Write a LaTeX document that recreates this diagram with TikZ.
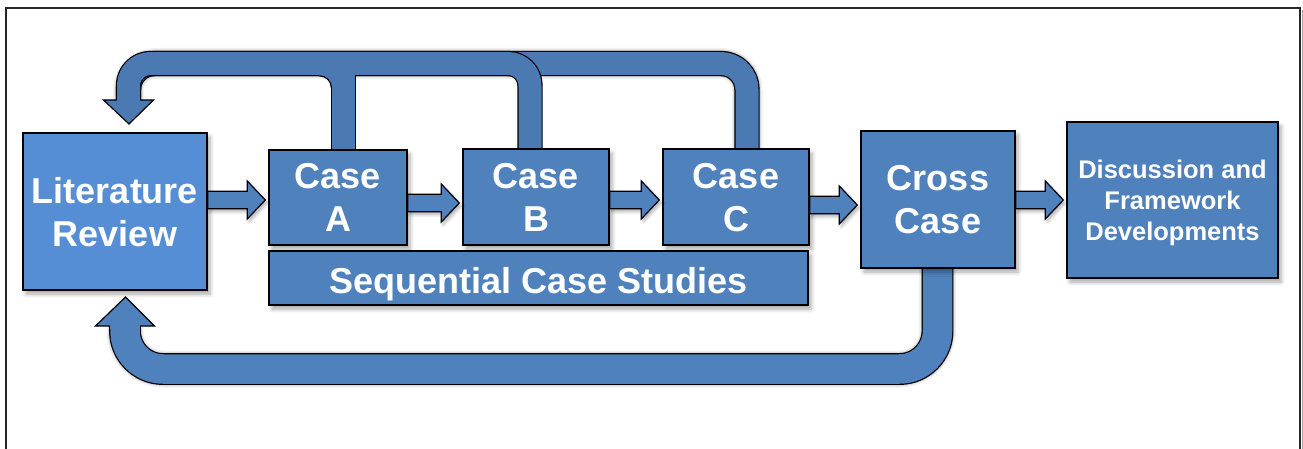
\documentclass[tikz,border=0pt]{standalone}
\usepackage{fontspec}
\setmainfont{Liberation Sans}
\usetikzlibrary{calc,shadows.blur}
\definecolor{boxblue}{HTML}{4F81BD}
\definecolor{litblue}{HTML}{558ED5}
\definecolor{loopblue}{HTML}{4B79B2}
\pgfdeclarelayer{bands}
\pgfsetlayers{bands,main}

% flat arrow between two boxes at a given height
\newcommand\flowarrow[3]{%
  \draw[flowstyle] let \p1=(#1.east |- 0,#3), \p2=(#2.west |- 0,#3) in
    (\x1,\y1+8.75pt) -- (\x2-21pt,\y1+8.75pt) -- (\x2-21pt,\y1+19pt)
    -- (\x2-3pt,\y1) -- (\x2-21pt,\y1-19pt) -- (\x2-21pt,\y1-8.75pt)
    -- (\x1,\y1-8.75pt) -- cycle;}

\begin{document}
\begin{tikzpicture}[x=1pt,y=-1pt,
  softshadow/.style={blur shadow={shadow xshift=3pt,shadow yshift=-4pt,
      shadow blur radius=4pt,shadow opacity=35}},
  box/.style={draw=black,line width=1.4pt,fill=boxblue,text=white,
      font=\bfseries\fontsize{36}{43}\selectfont,align=center,
      inner sep=0pt,text depth=0pt,softshadow},
  lower/.style={execute at begin node={\rule{0pt}{#1}}},
  flowstyle/.style={draw=black,line width=1.2pt,fill=boxblue,line join=miter,
      blur shadow={shadow xshift=2pt,shadow yshift=-3pt,
      shadow blur radius=3pt,shadow opacity=30}},
  bandedge/.style={draw=black,line cap=butt,line join=round},
  bandfill/.style={draw=loopblue,line cap=butt,line join=round},
  bandshade/.style={draw=black,opacity=0.10,line cap=butt,line join=round},
  headstyle/.style={draw=black,line width=1.2pt,fill=loopblue,line join=miter},
]
\useasboundingbox (0,0) rectangle (1303,449);

% outer frame
\draw[black!35,line width=1.5pt] (1302.5,10) -- (1302.5,460);
\draw[black!85,line width=1.3pt] (6,8) rectangle (1300,470);

% boxes
\node[box,lower=30pt,fill=litblue,minimum width=184pt,minimum height=157pt] (LR) at (115,211.5) {Literature\\Review};
\node[box,lower=32pt,minimum width=138pt,minimum height=95pt] (A) at (338,197.5) {Case\\A};
\node[box,lower=32pt,minimum width=146pt,minimum height=96pt] (B) at (536,197) {Case\\B};
\node[box,lower=32pt,minimum width=146pt,minimum height=96pt] (C) at (736,197) {Case\\C};
\node[box,lower=30pt,minimum width=539pt,minimum height=54pt] (S) at (538.5,278) {Sequential Case Studies};
\node[box,minimum width=154pt,minimum height=137pt] (X) at (938,199.5) {Cross\\Case};
\node[box,minimum width=211pt,minimum height=156pt,
      font=\bfseries\fontsize{25.5}{31}\selectfont] (D) at (1172.5,200)
      {Discussion and\\Framework\\Developments};

% flow between the stages
\flowarrow{LR}{A}{200}
\flowarrow{A}{B}{203}
\flowarrow{B}{C}{200}
\flowarrow{C}{X}{205}
\flowarrow{X}{D}{200}

% feedback loops
\coordinate (cTop) at (747,63.5);
\coordinate (bTop) at (530,63.5);
\coordinate (aTop) at (343.5,63.5);
\coordinate (lTop) at (128.5,63.5);
\coordinate (hTop) at (128.5,100);
\coordinate (dR) at (937.5,369);
\coordinate (dL) at (125,369);
\coordinate (hBot) at (125,326);

\begin{pgfonlayer}{bands}
  % soft shadows under the loops
  \foreach \w/\o in {31/0.06,28/0.08,26/0.10}{
    \draw[bandshade,opacity=\o,line width=\w pt,rounded corners=26pt,shift={(3,4)}]
      (cTop |- C.center) -- (cTop) -- (lTop) -- (hTop);
    \draw[bandshade,opacity=\o,line width=\w pt+6pt,rounded corners=38pt,shift={(3,4)}]
      (dR |- X.center) -- (dR) -- (dL) -- (hBot);
  }

  % loop from Case C back to the review
  \draw[bandedge,line width=25.4pt,rounded corners=26pt]
    (cTop |- C.center) -- (cTop) -- (lTop) -- (hTop);
  \draw[bandfill,line width=23pt,rounded corners=26pt]
    (cTop |- C.center) -- (cTop) -- (lTop) -- (hTop);

  % loop from Case B, laid over it
  \draw[bandedge,line width=25.4pt,rounded corners=22pt]
    (bTop |- B.center) -- (bTop) -- (lTop) -- (hTop);
  \draw[bandfill,line width=23pt,rounded corners=22pt]
    (bTop |- B.center) -- (bTop) -- (lTop) -- (hTop);

  % branch from Case A joining the loop
  \draw[bandedge,line width=25.4pt] (aTop |- A.center) -- ($(aTop)+(0,12)$);
  \draw[bandfill,line width=23pt] (aTop |- A.center) -- (aTop);
  \fill[loopblue] (319,69) -- (333,69) -- (333,87.8) -- (331.4,87.8)
    .. controls (331.4,81.2) and (326,75.85) .. (319.4,75.85) -- cycle;
  \draw[black,line width=1.2pt] (331.4,87.8)
    .. controls (331.4,81.2) and (326,75.85) .. (319.4,75.85);

  % head over the review box
  \draw[headstyle] (hTop) ++(-25,0) -- ++(50,0) -- ++(-24.5,24) -- cycle;
  \fill[loopblue] (hTop) ++(-11.5,-3) rectangle ++(23,4.4);

  % loop from the cross case back to the review
  \draw[bandedge,line width=31.9pt,rounded corners=38pt]
    (dR |- X.center) -- (dR) -- (dL) -- (hBot);
  \draw[bandfill,draw=boxblue,line width=29.5pt,rounded corners=38pt]
    (dR |- X.center) -- (dR) -- (dL) -- (hBot);
  \draw[headstyle,fill=boxblue] (hBot) ++(-29.5,0) -- ++(59,0) -- ++(-29,-29) -- cycle;
  \fill[boxblue] (hBot) ++(-14.75,3) rectangle ++(29.5,-4.4);
\end{pgfonlayer}
\end{tikzpicture}
\end{document}
